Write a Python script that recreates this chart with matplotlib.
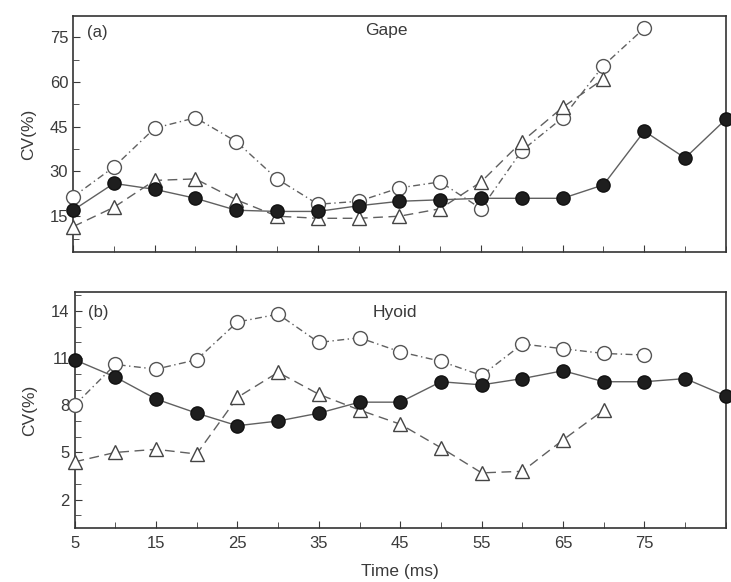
import numpy as np
import matplotlib.pyplot as plt
from matplotlib.ticker import MultipleLocator

plt.rcParams['font.family'] = ['Liberation Sans', 'DejaVu Sans']

# time points (ms)
t_full = [5, 10, 15, 20, 25, 30, 35, 40, 45, 50, 55, 60, 65, 70, 75, 80, 85]
t_75 = [5, 10, 15, 20, 25, 30, 35, 40, 45, 50, 55, 60, 65, 70, 75]
t_70 = [5, 10, 15, 20, 25, 30, 35, 40, 45, 50, 55, 60, 65, 70]

# (a) Gape
gape_filled = [17, 26, 24, 21, 17, 16.6, 16.6, 18.5, 20, 20.5, 21, 21, 21, 25.5, 43.5, 34.5, 47.5]
gape_open = [21.5, 31.5, 44.5, 48, 40, 27.5, 19, 20, 24.5, 26.5, 17.5, 37, 48, 65.5, 78]
gape_tri = [11.5, 18, 27, 27.5, 20.5, 15, 14.3, 14.3, 15, 17.5, 26.5, 40, 51.5, 61]

# (b) Hyoid
hyoid_filled = [10.9, 9.8, 8.4, 7.5, 6.7, 7.0, 7.5, 8.2, 8.2, 9.5, 9.3, 9.7, 10.2, 9.5, 9.5, 9.7, 8.6]
hyoid_open = [8.0, 10.6, 10.3, 10.9, 13.3, 13.8, 12.0, 12.3, 11.4, 10.8, 9.9, 11.9, 11.6, 11.3, 11.2]
hyoid_tri = [4.4, 5.0, 5.2, 4.9, 8.5, 10.1, 8.7, 7.7, 6.8, 5.3, 3.7, 3.8, 5.8, 7.7]

txt = '#3a3a3a'
lc = '#606060'

fig = plt.figure(figsize=(7.31, 5.82), dpi=100)
ax1 = fig.add_axes([0.1, 0.567, 0.893, 0.405])
ax2 = fig.add_axes([0.102, 0.093, 0.891, 0.405])


def draw(ax, filled, opened, tri):
    ax.plot(t_full, filled, '-', color=lc, lw=1.0, marker='o', ms=9.5,
            mfc='#1e1e1e', mec='#111111', mew=1.0, clip_on=False, zorder=4)
    ax.plot(t_75, opened, color=lc, lw=1.0, dashes=(5, 2.5, 1, 2.5), marker='o', ms=10,
            mfc='white', mec='#555555', mew=1.0, clip_on=False, zorder=3)
    ax.plot(t_70, tri, color=lc, lw=1.0, dashes=(7, 4), marker='^', ms=10,
            mfc='white', mec='#444444', mew=1.0, clip_on=False, zorder=3)
    ax.set_xlim(5, 85)
    ax.xaxis.set_major_locator(MultipleLocator(10))
    ax.xaxis.set_minor_locator(MultipleLocator(5))
    ax.tick_params(which='both', direction='in', colors=txt, labelsize=12)
    ax.tick_params(axis='x', pad=6)
    ax.tick_params(which='major', length=5)
    ax.tick_params(which='minor', length=4)
    for s in ax.spines.values():
        s.set_linewidth(1.2)
        s.set_color('#333333')
    ax.set_ylabel('CV(%)', fontsize=12.5, color=txt, labelpad=10)


draw(ax1, gape_filled, gape_open, gape_tri)
ax1.set_ylim(3, 82)
ax1.set_yticks([15, 30, 45, 60, 75])
ax1.yaxis.set_minor_locator(MultipleLocator(7.5))
ax1.set_xticks([5, 15, 25, 35, 45, 55, 65, 75])
ax1.tick_params(labelbottom=False)
ax1.text(0.022, 0.93, '(a)', transform=ax1.transAxes, fontsize=12, color=txt, va='center')
ax1.text(0.447, 0.94, 'Gape', transform=ax1.transAxes, fontsize=12.5, color=txt, va='center')

draw(ax2, hyoid_filled, hyoid_open, hyoid_tri)
ax2.set_ylim(0.2, 15.2)
ax2.set_yticks([2, 5, 8, 11, 14])
ax2.yaxis.set_minor_locator(MultipleLocator(1))
ax2.set_xticks([5, 15, 25, 35, 45, 55, 65, 75])
ax2.text(0.02, 0.915, '(b)', transform=ax2.transAxes, fontsize=12, color=txt, va='center')
ax2.text(0.457, 0.915, 'Hyoid', transform=ax2.transAxes, fontsize=12.5, color=txt, va='center')
ax2.set_xlabel('Time (ms)', fontsize=12.5, color=txt, labelpad=9)

fig.savefig('out.png', dpi=100)
